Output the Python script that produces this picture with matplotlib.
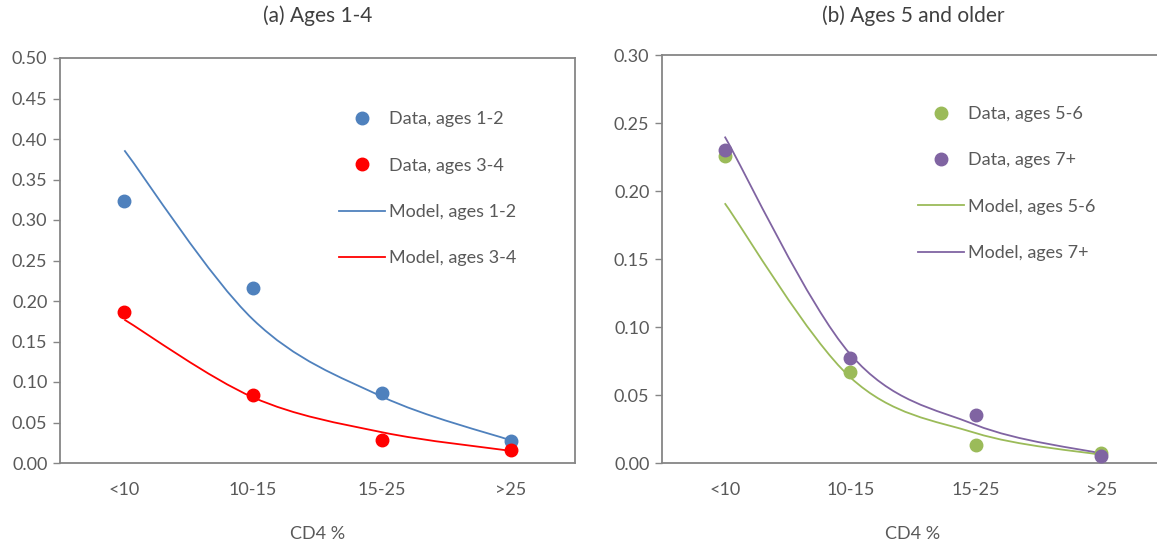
import numpy as np
import matplotlib.pyplot as plt
from matplotlib.path import Path
from matplotlib.patches import PathPatch
from matplotlib.lines import Line2D

plt.rcParams['font.family'] = ['Lato', 'DejaVu Sans']

categories = ['<10', '10-15', '15-25', '>25']

# panel (a)
data_12 = [0.324, 0.216, 0.086, 0.027]
data_34 = [0.187, 0.084, 0.029, 0.016]
model_12 = [0.386, 0.177, 0.082, 0.028]
model_34 = [0.177, 0.081, 0.038, 0.015]

# panel (b)
data_56 = [0.226, 0.067, 0.013, 0.007]
data_7p = [0.230, 0.077, 0.035, 0.005]
model_56 = [0.191, 0.063, 0.022, 0.006]
model_7p = [0.240, 0.080, 0.028, 0.007]

BLUE = '#4F81BD'
RED = '#FF0000'
GREEN = '#9BBB59'
PURPLE = '#8064A2'
GREY = '#595959'
AXIS = '#868686'
FS = 13


def smooth_line(ax, ys, color):
    # Excel-style smoothed line: cubic Bezier segments through the points
    xs = np.arange(len(ys), dtype=float)
    ys = np.asarray(ys, dtype=float)
    n = len(xs)
    verts = [(xs[0], ys[0])]
    codes = [Path.MOVETO]
    for i in range(n - 1):
        p0 = i - 1 if i > 0 else i
        p3 = i + 2 if i + 2 < n else i + 1
        c1 = (xs[i] + (xs[i + 1] - xs[p0]) / 6, ys[i] + (ys[i + 1] - ys[p0]) / 6)
        c2 = (xs[i + 1] - (xs[p3] - xs[i]) / 6, ys[i + 1] - (ys[p3] - ys[i]) / 6)
        verts += [c1, c2, (xs[i + 1], ys[i + 1])]
        codes += [Path.CURVE4] * 3
    ax.add_patch(PathPatch(Path(verts, codes), fill=False, edgecolor=color, lw=1.3))


def style(ax, ymax, title, tpad):
    ax.set_xlim(-0.5, 3.5)
    ax.set_ylim(0, ymax)
    ax.set_yticks(np.arange(0, ymax + 0.001, 0.05))
    ax.set_yticklabels([f'{v:.2f}' for v in np.arange(0, ymax + 0.001, 0.05)])
    ax.set_xticks(range(4))
    ax.set_xticklabels(categories)
    ax.tick_params(axis='x', length=0, pad=14, labelsize=FS, colors=GREY)
    ax.tick_params(axis='y', length=5, width=1, labelsize=FS, colors=GREY, pad=4)
    ax.tick_params(axis='y', color=AXIS)
    for s in ax.spines.values():
        s.set_color(AXIS)
        s.set_linewidth(1.3)
    ax.set_xlabel('CD4 %', fontsize=FS, color=GREY, labelpad=20)
    ax.set_title(title, fontsize=15, color='#404040', pad=tpad)


fig = plt.figure(figsize=(11.57, 5.5), dpi=100)
ax1 = fig.add_axes([60 / 1157, 87 / 550, 515 / 1157, 405 / 550])
ax2 = fig.add_axes([662 / 1157, 87 / 550, 502 / 1157, 408 / 550])

x = np.arange(4)
for ax, series, anchor in [
        (ax1, [(data_12, model_12, BLUE, 'ages 1-2'), (data_34, model_34, RED, 'ages 3-4')], (0.528, 0.886)),
        (ax2, [(data_56, model_56, GREEN, 'ages 5-6'), (data_7p, model_7p, PURPLE, 'ages 7+')], (0.496, 0.893))]:
    handles = []
    for d, m, c, lab in series:
        smooth_line(ax, m, c)
    for d, m, c, lab in series:
        ax.plot(x, d, 'o', color=c, ms=9, zorder=3)
        handles.append(Line2D([], [], ls='none', marker='o', color=c, ms=9, label='Data, ' + lab))
    for d, m, c, lab in series:
        handles.append(Line2D([], [], color=c, lw=1.3, label='Model, ' + lab))
    ax.legend(handles=handles, loc='upper left', bbox_to_anchor=anchor,
              frameon=False, fontsize=FS, labelspacing=1.68, handlelength=2.55,
              handletextpad=0.2, labelcolor=GREY, borderaxespad=0)

style(ax1, 0.5, '(a) Ages 1-4', 26)
style(ax2, 0.3, '(b) Ages 5 and older', 24)

fig.savefig('out.png', dpi=100)
